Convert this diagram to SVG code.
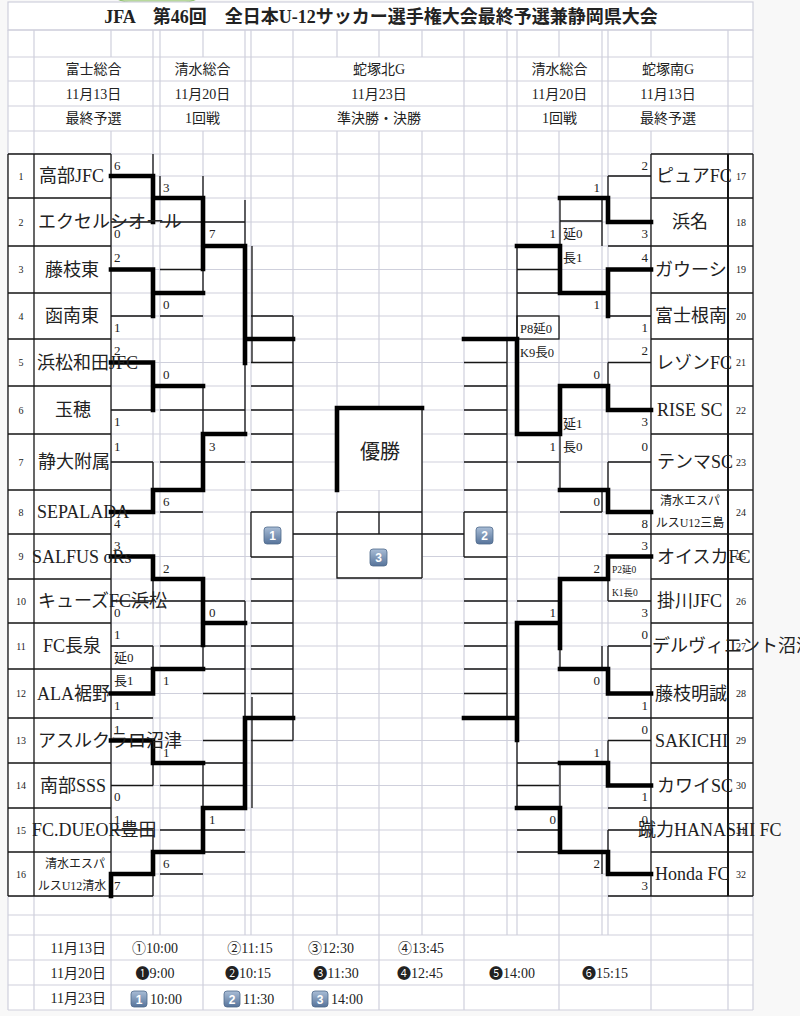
<svg xmlns="http://www.w3.org/2000/svg" width="800" height="1016" viewBox="0 0 800 1016">
<defs>
<style>
.g{stroke:#cfd0dc;stroke-width:1.2;fill:none}
.k{stroke:#161616;stroke-width:1.3;fill:none}
.t{stroke:#000;stroke-width:4.6;fill:none;stroke-linecap:square;stroke-linejoin:miter}
text{font-family:"Liberation Serif","Noto Sans CJK JP","DejaVu Sans",serif;fill:#222}
.nm{font-size:18px}
.n2{font-size:12px}
.sc{font-size:13px}
.r{text-anchor:end}
.c{text-anchor:middle}
.hd{font-size:14px;text-anchor:middle}
.rn{font-size:10px;text-anchor:middle}
.sm{font-size:12.5px}
.xs{font-size:9.5px}
.bt{font-family:"Liberation Sans","DejaVu Sans",sans-serif;font-size:12px;font-weight:bold;fill:#fff;text-anchor:middle}
.bd{fill:url(#bg);stroke:#4f6a8c;stroke-width:0.8}
</style>
<linearGradient id="bg" x1="0" y1="0" x2="0" y2="1"><stop offset="0" stop-color="#a9bdd6"/><stop offset="1" stop-color="#56739a"/></linearGradient>
</defs>
<rect width="800" height="1016" fill="#f8f8f8"/>
<ellipse cx="157" cy="-6" rx="45" ry="11" fill="#b8d99c" stroke="#8dbf6c"/>
<rect x="8" y="2" width="745" height="1008" fill="#fff"/>
<g id="grid">
<rect class="g" x="8" y="2" width="745" height="28"/>
<path class="g" d="M8 30H753M8 57H753M8 81H753M8 106H753M8 131H753M8 154H753M8 176H753M8 198H753M8 222H753M8 246H753M8 269.5H753M8 293H753M8 316H753M8 339H753M8 362.5H753M8 386H753M8 410H753M8 434H753M8 462H753M8 490H753M8 512H753M8 534H753M8 556.5H753M8 579H753M8 601H753M8 623H753M8 646H753M8 669H753M8 693.5H753M8 718H753M8 740.5H753M8 763H753M8 785.5H753M8 808H753M8 830H753M8 852H753M8 874H753M8 896H753M8 915H753M8 935H753M8 960H753M8 985H753M8 1010H753"/>
<path class="g" d="M8 30V57M34 30V57M111 30V57M153 30V57M160 30V57M203 30V57M245 30V57M251 30V57M293 30V57M337 30V57M379 30V57M422 30V57M464 30V57M507 30V57M517 30V57M559 30V57M602 30V57M608 30V57M651 30V57M728 30V57M753 30V57"/>
<path class="g" d="M8 57V131M34 57V131M153 57V131M160 57V131M245 57V131M251 57V131M293 57V131M464 57V131M507 57V131M517 57V131M602 57V131M608 57V131M728 57V131M753 57V131"/>
<path class="g" d="M8 131V935M34 131V935M111 131V935M153 131V935M160 131V935M203 131V935M245 131V935M251 131V935M293 131V935M337 131V935M379 131V935M422 131V935M464 131V935M507 131V935M517 131V935M559 131V935M602 131V935M608 131V935M651 131V935M728 131V935M753 131V935"/>
<path class="g" d="M8 935V1010M34 935V1010M111 935V1010M203 935V1010M293 935V1010M379 935V1010M464 935V1010M559 935V1010M651 935V1010M728 935V1010M753 935V1010"/>
</g>
<g id="header">
<text x="381" y="23" style="font-size:18px;font-weight:bold;text-anchor:middle">JFA　第46回　全日本U-12サッカー選手権大会最終予選兼静岡県大会</text>
<text class="hd" x="93.5" y="74">富士総合</text>
<text class="hd" x="202.5" y="74">清水総合</text>
<text class="hd" x="379" y="74">蛇塚北G</text>
<text class="hd" x="559.5" y="74">清水総合</text>
<text class="hd" x="668" y="74">蛇塚南G</text>
<text class="hd" x="93.5" y="99">11月13日</text>
<text class="hd" x="202.5" y="99">11月20日</text>
<text class="hd" x="379" y="99">11月23日</text>
<text class="hd" x="559.5" y="99">11月20日</text>
<text class="hd" x="668" y="99">11月13日</text>
<text class="hd" x="93.5" y="123">最終予選</text>
<text class="hd" x="202.5" y="123">1回戦</text>
<text class="hd" x="379" y="123">準決勝・決勝</text>
<text class="hd" x="559.5" y="123">1回戦</text>
<text class="hd" x="668" y="123">最終予選</text>
</g>
<g id="boxes-fill" fill="#fff">
<rect x="8" y="154" width="103" height="742"/>
<rect x="651" y="154" width="102" height="742"/>
<rect x="337" y="408" width="85" height="82"/>
<rect x="337" y="534" width="85" height="44"/>
<rect x="251" y="512" width="42" height="45"/>
<rect x="464" y="512" width="43" height="45"/>
<rect x="517" y="316" width="42" height="23"/>
</g>
<g id="connectors">
<path class="k" d="M8 154V896M34 154V896M111 154V896M8 154H111M8 198H111M8 246H111M8 293H111M8 339H111M8 386H111M8 434H111M8 490H111M8 534H111M8 579H111M8 623H111M8 669H111M8 718H111M8 763H111M8 808H111M8 852H111M8 896H111"/>
<path class="k" d="M651 154V896M753 154V896M651 154H753M651 198H753M651 246H753M651 293H753M651 339H753M651 386H753M651 434H753M651 490H753M651 534H753M651 579H753M651 623H753M651 669H753M651 718H753M651 763H753M651 808H753M651 852H753M651 896H753"/>
<path class="k" style="stroke-width:2" d="M728 154V896"/>
<path class="k" d="M111 176H153M111 222H153M111 269.5H153M111 316H153M111 362.5H153M111 410H153M111 462H153M111 512H153M111 556.5H153M111 601H153M111 646H153M111 693.5H153M111 740.5H153M111 785.5H153M111 830H153M111 874H153M153 154V222M153 269.5V316M153 362.5V410M153 462V512M153 556.5V601M153 646V693.5M153 740.5V785.5M153 830V896M111 669H153M111 718H153M111 896H153"/>
<path class="k" d="M203 176V293M203 386V490M203 579V669M203 763V852M160 176V198M160 222H203M160 269.5H203M160 316H203M160 410H203M160 462H245M160 512H203M160 601H203M160 646H203M160 785.5H203M160 830H203M160 874H203"/>
<path class="k" d="M245 200V434M245 601V808M252 246V363M252 697V808M203 222H245M203 410H245M203 601H245M203 646H245M203 669H245M203 693.5H245M203 740.5H245M203 763H245M203 785.5H245M203 830H245M203 852H245"/>
<path class="k" d="M293 316V740.5M251 316H293M251 362.5H293M251 386H293M251 410H293M251 434H293M251 462H293M251 490H293M251 512H293M251 557H293M251 579H293M251 601H293M251 623H293M251 646H293M251 669H293M251 693.5H293M251 740.5H293M251 512V557"/>
<path class="k" d="M293 534H464M337 512H422M337 512V534M379 512V534M337 534V578H422M422 408V578M464 512V557"/>
<path class="k" d="M507 339V718M464 362.5H507M464 386H507M464 410H507M464 434H507M464 462H507M464 490H507M464 512H507M464 557H507M464 579H507M464 601H507M464 623H507M464 646H507M464 669H507M464 693.5H507"/>
<path class="k" d="M608 176H651M608 316H651M608 362.5H651M608 462H651M608 601H651M608 646H651M608 740.5H651M608 830H651M608 176V222M608 269.5V316M608 362.5V410M608 462V512M608 556.5V601M608 646V693.5M608 740.5V785.5M608 830V874M608 246H651M608 534H651M608 718H651M608 808H651M608 896H651"/>
<path class="k" d="M560 198V293M560 386V490M560 579V669M560 763V852M602 198V246M560 221H602M602 490V512M560 512H602M602 646V669M602 852V874"/>
<path class="k" d="M517 246V434M517 623V808M517 269.5H559M517 293H559M517 462H559M517 601H559M517 763H559M517 785.5H559M517 830H559M517 852H559"/>
<rect class="k" x="517" y="316" width="42" height="23"/>
<path class="t" d="M111 176H153V222M153 198H203V269M203 246H245V363M245 339H293"/>
<path class="t" d="M111 269.5H153V316M153 293H203"/>
<path class="t" d="M111 362.5H153V410M153 386H203"/>
<path class="t" d="M111 512H153V490M153 490H203V434M203 434H245"/>
<path class="t" d="M111 556.5H153V579M153 579H203V645M203 623H245"/>
<path class="t" d="M111 693.5H153V669M153 669H203"/>
<path class="t" d="M111 740.5H153V763M153 763H203"/>
<path class="t" d="M111 874H153V852M153 852H203V808M203 808H245V718M245 718H293M111 874V896"/>
<path class="t" d="M651 222H608V198M608 198H560"/>
<path class="t" d="M651 269.5H608V316M608 293H560V246M560 246H517"/>
<path class="t" d="M651 410H608V386M608 386H560V434M560 434H517V339M517 339H464"/>
<path class="t" d="M651 512H608V490M608 490H560"/>
<path class="t" d="M651 556.5H608V579M608 579H560V648M560 623H517V740M517 718H464"/>
<path class="t" d="M651 693.5H608V669M608 669H560"/>
<path class="t" d="M651 785.5H608V763M608 763H560"/>
<path class="t" d="M651 874H608V852M608 852H560V808M560 808H517"/>
<path class="t" d="M337 490V408H422"/>
</g>
<g id="numbers-left">
<text class="rn" x="21" y="180">1</text><text class="rn" x="21" y="226">2</text><text class="rn" x="21" y="273">3</text><text class="rn" x="21" y="320">4</text><text class="rn" x="21" y="366">5</text><text class="rn" x="21" y="414">6</text><text class="rn" x="21" y="466">7</text><text class="rn" x="21" y="516">8</text><text class="rn" x="21" y="560">9</text><text class="rn" x="21" y="605">10</text><text class="rn" x="21" y="650">11</text><text class="rn" x="21" y="697">12</text><text class="rn" x="21" y="744">13</text><text class="rn" x="21" y="789">14</text><text class="rn" x="21" y="834">15</text><text class="rn" x="21" y="878">16</text>
</g>
<g id="numbers-right">
<text class="rn" x="741" y="180">17</text><text class="rn" x="741" y="226">18</text><text class="rn" x="741" y="273">19</text><text class="rn" x="741" y="320">20</text><text class="rn" x="741" y="366">21</text><text class="rn" x="741" y="414">22</text><text class="rn" x="741" y="466">23</text><text class="rn" x="741" y="516">24</text><text class="rn" x="741" y="560">25</text><text class="rn" x="741" y="605">26</text><text class="rn" x="741" y="650">27</text><text class="rn" x="741" y="697">28</text><text class="rn" x="741" y="744">29</text><text class="rn" x="741" y="789">30</text><text class="rn" x="741" y="834">31</text><text class="rn" x="741" y="878">32</text>
</g>
<g id="teams-left">
<g id="t1"><text class="nm" x="39" y="182">高部JFC</text></g>
<g id="t2"><text class="nm" x="38" y="228">エクセルシオール</text></g>
<g id="t3"><text class="nm" x="45" y="275.5">藤枝東</text></g>
<g id="t4"><text class="nm" x="45" y="322">函南東</text></g>
<g id="t5"><text class="nm" x="37" y="368.5">浜松和田JFC</text></g>
<g id="t6"><text class="nm" x="55" y="416">玉穂</text></g>
<g id="t7"><text class="nm" x="38" y="468">静大附属</text></g>
<g id="t8"><text class="nm" x="37" y="518">SEPALADA</text></g>
<g id="t9"><text class="nm" x="32" y="562.5">SALFUS oRs</text></g>
<g id="t10"><text class="nm" x="38" y="607">キューズFC浜松</text></g>
<g id="t11"><text class="nm" x="43" y="652">FC長泉</text></g>
<g id="t12"><text class="nm" x="37" y="699.5">ALA裾野</text></g>
<g id="t13"><text class="nm" x="38" y="746.5">アスルクラロ沼津</text></g>
<g id="t14"><text class="nm" x="40" y="791.5">南部SSS</text></g>
<g id="t15"><text class="nm" x="32" y="836">FC.DUEOR豊田</text></g>
<g id="t16"><text class="n2 c" x="75" y="868">清水エスパ</text><text class="n2 c" x="72" y="890">ルスU12清水</text></g>
</g>
<g id="teams-right">
<g id="t17"><text class="nm" x="656" y="182">ピュアFC</text></g>
<g id="t18"><text class="nm" x="672" y="228">浜名</text></g>
<g id="t19"><text class="nm" x="655" y="275.5">ガウーシ</text></g>
<g id="t20"><text class="nm" x="655" y="322">富士根南</text></g>
<g id="t21"><text class="nm" x="656" y="368.5">レゾンFC</text></g>
<g id="t22"><text class="nm" x="657" y="416">RISE SC</text></g>
<g id="t23"><text class="nm" x="657" y="468">テンマSC</text></g>
<g id="t24"><text class="n2 c" x="690" y="505">清水エスパ</text><text class="n2 c" x="690" y="527">ルスU12三島</text></g>
<g id="t25"><text class="nm" x="657" y="562.5">オイスカFC</text></g>
<g id="t26"><text class="nm" x="657" y="607">掛川JFC</text></g>
<g id="t27"><text class="nm" x="652" y="652">デルヴィエント沼津</text></g>
<g id="t28"><text class="nm" x="655" y="699.5">藤枝明誠</text></g>
<g id="t29"><text class="nm" x="655" y="746.5">SAKICHI</text></g>
<g id="t30"><text class="nm" x="657" y="791.5">カワイSC</text></g>
<g id="t31"><text class="nm" x="638" y="836">蹴力HANASHI FC</text></g>
<g id="t32"><text class="nm" x="655" y="880">Honda FC</text></g>
</g>
<g id="scores-left" class="sc">
<text class="sc" x="114" y="170">6</text><text class="sc" x="114" y="238">0</text>
<text class="sc" x="114" y="262">2</text><text class="sc" x="114" y="332">1</text>
<text class="sc" x="114" y="355">2</text><text class="sc" x="114" y="426">1</text>
<text class="sc" x="114" y="451">1</text><text class="sc" x="114" y="528">4</text>
<text class="sc" x="114" y="550">3</text><text class="sc" x="114" y="617">0</text>
<text class="sc" x="114" y="639">1</text><text class="sc" x="114" y="662">延0</text>
<text class="sc" x="114" y="685">長1</text><text class="sc" x="114" y="710">1</text>
<text class="sc" x="114" y="734">1</text><text class="sc" x="114" y="801">0</text>
<text class="sc" x="114" y="824">1</text><text class="sc" x="114" y="890">7</text>
<text class="sc" x="163" y="192">3</text><text class="sc" x="163" y="309">0</text>
<text class="sc" x="163" y="379">0</text><text class="sc" x="163" y="506">6</text>
<text class="sc" x="163" y="573">2</text><text class="sc" x="163" y="685">1</text>
<text class="sc" x="163" y="757">1</text><text class="sc" x="163" y="868">6</text>
<text class="sc" x="209" y="238">7</text><text class="sc" x="209" y="451">3</text>
<text class="sc" x="209" y="617">0</text><text class="sc" x="209" y="824">1</text>
</g>
<g id="scores-right">
<text class="sc r" x="648" y="170">2</text><text class="sc r" x="648" y="238">3</text>
<text class="sc r" x="648" y="262">4</text><text class="sc r" x="648" y="332">1</text>
<text class="sc r" x="648" y="355">2</text><text class="sc r" x="648" y="426">3</text>
<text class="sc r" x="648" y="451">0</text><text class="sc r" x="648" y="528">8</text>
<text class="sc r" x="648" y="550">3</text><text class="xs" x="612" y="573">P2延0</text>
<text class="xs" x="612" y="596">K1長0</text><text class="sc r" x="648" y="617">3</text>
<text class="sc r" x="648" y="639">0</text><text class="sc r" x="648" y="710">1</text>
<text class="sc r" x="648" y="734">0</text><text class="sc r" x="648" y="801">1</text>
<text class="sc r" x="648" y="824">0</text><text class="sc r" x="648" y="890">3</text>
<text class="sc r" x="600" y="192">1</text><text class="sc r" x="600" y="309">1</text>
<text class="sc" x="563" y="238">延0</text><text class="sc" x="563" y="262">長1</text>
<text class="sc r" x="600" y="379">0</text><text class="sc r" x="600" y="506">0</text>
<text class="sc" x="563" y="428">延1</text><text class="sc" x="563" y="451">長0</text>
<text class="sc r" x="600" y="573">2</text><text class="sc r" x="600" y="685">0</text>
<text class="sc r" x="600" y="757">1</text><text class="sc r" x="600" y="868">2</text>
<text class="sc r" x="556" y="238">1</text><text class="sc r" x="556" y="451">1</text>
<text class="sc r" x="556" y="617">1</text><text class="sc r" x="556" y="824">0</text>
<text class="sm" x="520" y="333">P8延0</text><text class="sm" x="520" y="357">K9長0</text>
</g>
<g id="center">
<text x="380" y="459" style="font-size:20px;text-anchor:middle">優勝</text>
<rect class="bd" x="264" y="527" width="17" height="17" rx="3"/><text class="bt" x="272.5" y="540">1</text>
<rect class="bd" x="476" y="527" width="17" height="17" rx="3"/><text class="bt" x="484.5" y="540">2</text>
<rect class="bd" x="370" y="549" width="17" height="17" rx="3"/><text class="bt" x="378.5" y="562">3</text>
</g>
<g id="schedule">
<text class="hd r" x="106" y="953" style="text-anchor:end">11月13日</text>
<text class="hd r" x="106" y="978" style="text-anchor:end">11月20日</text>
<text class="hd r" x="106" y="1003" style="text-anchor:end">11月23日</text>
<text class="hd" x="155" y="953">①10:00</text>
<text class="hd" x="250" y="953">②11:15</text>
<text class="hd" x="331" y="953">③12:30</text>
<text class="hd" x="421" y="953">④13:45</text>
<text class="hd" x="155" y="978">❶9:00</text>
<text class="hd" x="248" y="978">❷10:15</text>
<text class="hd" x="336" y="978">❸11:30</text>
<text class="hd" x="420" y="978">❹12:45</text>
<text class="hd" x="512" y="978">❺14:00</text>
<text class="hd" x="605" y="978">❻15:15</text>
<rect class="bd" x="131" y="991" width="16" height="16" rx="3"/><text class="bt" x="139" y="1003.5">1</text>
<text style="font-size:14px" x="150" y="1004">10:00</text>
<rect class="bd" x="224" y="991" width="16" height="16" rx="3"/><text class="bt" x="232" y="1003.5">2</text>
<text style="font-size:14px" x="243" y="1004">11:30</text>
<rect class="bd" x="312" y="991" width="16" height="16" rx="3"/><text class="bt" x="320" y="1003.5">3</text>
<text style="font-size:14px" x="331" y="1004">14:00</text>
</g>
</svg>
